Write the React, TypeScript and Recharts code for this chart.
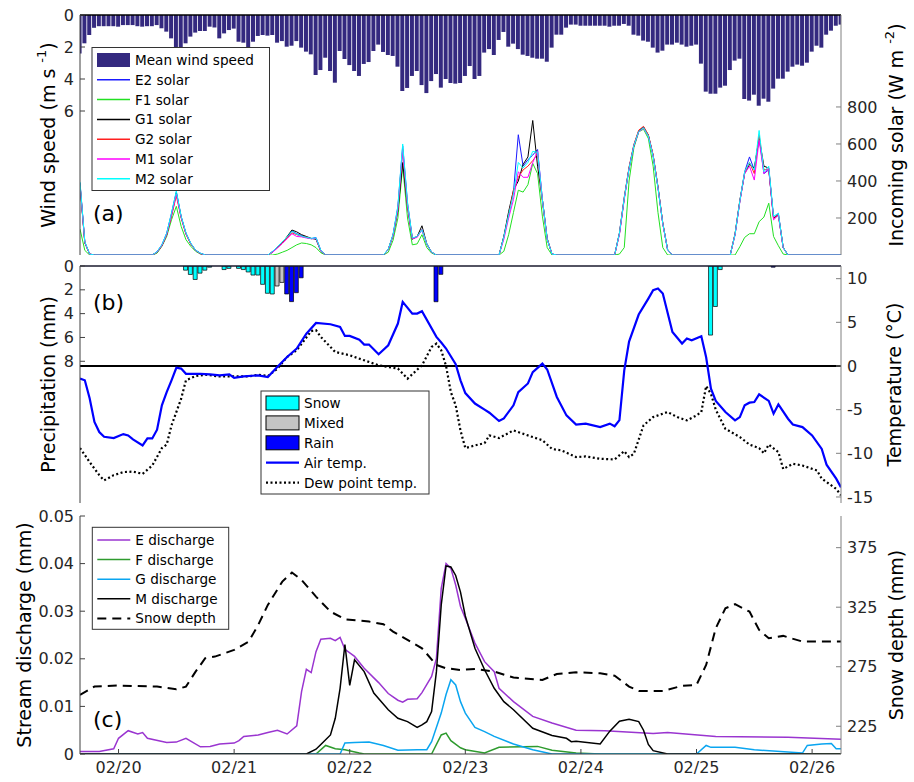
import React from 'react';
import { ComposedChart, Bar, Line, XAxis, YAxis, ReferenceLine, Cell } from 'recharts';

const FONT = '"DejaVu Sans", Verdana, sans-serif';
const AXIS = '#404040';
const AXIS_R = '#808080';
const TXT = '#262626';

// x = hours since 02/19 16:00 (one wind / precipitation bar per hour)
const HOUR_COUNT = 159;
const dateTicks = [8, 32, 56, 80, 104, 128, 152];
const dateLabels = ['02/20', '02/21', '02/22', '02/23', '02/24', '02/25', '02/26'];
const windTicks = [0, 2, 4, 6];
const solarTicks = [200, 400, 600, 800];
const precipTicks = [0, 2, 4, 6, 8];
const tempTicks = [-15, -10, -5, 0, 5, 10];
const dischargeTicks = [0, 0.01, 0.02, 0.03, 0.04, 0.05];
const snowDepthTicks = [225, 275, 325, 375];

const windSpeed = [
  2.4, 1.77, 1.25, 0.8, 0.7, 0.7, 0.7, 0.7, 0.73, 0.63,
  0.63, 0.63, 0.7, 0.73, 0.7, 0.7, 0.63, 0.83, 1.04, 1.46,
  2.08, 2.08, 1.77, 1.35, 1.1, 1.0, 1.0, 0.73, 0.78, 1.46,
  1.15, 0.94, 0.85, 1.67, 1.73, 2.19, 1.67, 1.31, 1.25, 1.29,
  1.25, 1.73, 1.63, 1.98, 1.92, 1.63, 2.04, 2.29, 2.46, 3.75,
  3.44, 2.67, 3.5, 4.23, 2.25, 2.75, 3.13, 3.5, 3.81, 3.06,
  2.94, 2.25, 1.85, 2.31, 2.5, 2.56, 3.23, 4.75, 4.56, 3.81,
  3.5, 4.38, 4.88, 4.13, 3.69, 4.54, 4.0, 4.25, 4.29, 4.25,
  3.81, 3.19, 4.0, 3.81, 2.35, 2.13, 2.5, 1.56, 1.06, 1.98,
  1.79, 2.13, 2.48, 2.56, 2.67, 2.73, 2.73, 2.92, 2.04, 1.23,
  1.23, 0.79, 0.6, 0.6, 0.67, 0.67, 0.67, 0.67, 0.67, 0.67,
  0.73, 0.67, 0.67, 0.56, 0.67, 1.23, 1.29, 1.6, 1.67, 2.04,
  2.35, 2.23, 1.85, 1.85, 1.73, 1.85, 1.98, 1.92, 1.85, 3.04,
  4.79, 4.92, 4.92, 4.54, 4.42, 3.44, 2.85, 2.73, 5.25, 5.35,
  4.98, 5.67, 5.23, 5.42, 4.6, 3.98, 3.98, 3.54, 3.23, 3.1,
  3.17, 2.98, 2.29, 1.92, 2.04, 1.23, 0.98, 0.67, 0.6,
];

type Pt = [number, number];

const solarE2: Pt[] = [
  [0, 390], [1, 70], [2, 5], [3, 0],
  [15, 0], [16, 18], [17, 55], [18, 118], [19, 225], [20, 342], [21, 208], [22, 118], [23, 63], [24, 26], [25, 10], [26, 0],
  [39, 0], [40, 20], [41, 45], [42, 70], [43, 95], [44, 130], [45, 115], [46, 105], [47, 95], [48, 88], [49, 95], [50, 25], [51, 0],
  [63, 0], [64, 30], [65, 110], [66, 260], [67, 590], [68, 280], [69, 90], [70, 100], [71, 135], [72, 60], [73, 15], [74, 0],
  [87, 0], [88, 100], [89, 220], [90, 340], [91, 650], [92, 480], [93, 515], [94, 540], [95, 570], [96, 300], [97, 85], [98, 5], [99, 0],
  [111, 0], [112, 120], [113, 310], [114, 470], [115, 595], [116, 670], [117, 690], [118, 645], [119, 535], [120, 365], [121, 170], [122, 28], [123, 0],
  [135, 0], [136, 110], [137, 290], [138, 450], [139, 530], [140, 460], [141, 640], [142, 440], [143, 460], [144, 200], [145, 225], [146, 40], [147, 0],
  [158, 0],
];
const solarF1: Pt[] = [
  [0, 140], [1, 25], [2, 0],
  [15, 0], [16, 10], [17, 47], [18, 100], [19, 190], [20, 263], [21, 155], [22, 83], [23, 47], [24, 20], [25, 5], [26, 0],
  [40, 0], [41, 5], [42, 15], [43, 25], [44, 40], [45, 55], [46, 65], [47, 62], [48, 55], [49, 40], [50, 12], [51, 0],
  [63, 0], [64, 15], [65, 80], [66, 200], [67, 480], [68, 200], [69, 55], [70, 60], [71, 110], [72, 40], [73, 10], [74, 0],
  [87, 0], [88, 20], [89, 110], [90, 230], [91, 350], [92, 340], [93, 380], [94, 495], [95, 440], [96, 210], [97, 40], [98, 0],
  [111, 0], [112, 5], [113, 40], [114, 400], [115, 580], [116, 665], [117, 680], [118, 630], [119, 480], [120, 230], [121, 40], [122, 0],
  [135, 0], [136, 0], [137, 45], [138, 95], [139, 115], [140, 115], [141, 180], [142, 205], [143, 280], [144, 100], [145, 50], [146, 5], [147, 0],
  [158, 0],
];
const solarG1: Pt[] = [
  [0, 380], [1, 65], [2, 5], [3, 0],
  [15, 0], [16, 15], [17, 50], [18, 110], [19, 215], [20, 335], [21, 205], [22, 115], [23, 60], [24, 25], [25, 8], [26, 0],
  [39, 0], [40, 15], [41, 40], [42, 65], [43, 100], [44, 135], [45, 125], [46, 110], [47, 100], [48, 90], [49, 85], [50, 20], [51, 0],
  [63, 0], [64, 30], [65, 105], [66, 240], [67, 500], [68, 260], [69, 85], [70, 100], [71, 158], [72, 60], [73, 15], [74, 0],
  [87, 0], [88, 100], [89, 235], [90, 350], [91, 400], [92, 490], [93, 530], [94, 727], [95, 480], [96, 300], [97, 90], [98, 5], [99, 0],
  [111, 0], [112, 115], [113, 305], [114, 470], [115, 590], [116, 668], [117, 692], [118, 648], [119, 538], [120, 368], [121, 172], [122, 30], [123, 0],
  [135, 0], [136, 115], [137, 295], [138, 440], [139, 490], [140, 470], [141, 630], [142, 480], [143, 470], [144, 200], [145, 215], [146, 40], [147, 0],
  [158, 0],
];
const solarG2: Pt[] = [
  [0, 385], [1, 68], [2, 5], [3, 0],
  [15, 0], [16, 15], [17, 50], [18, 110], [19, 210], [20, 320], [21, 200], [22, 112], [23, 60], [24, 25], [25, 8], [26, 0],
  [39, 0], [40, 18], [41, 42], [42, 68], [43, 92], [44, 120], [45, 110], [46, 100], [47, 95], [48, 88], [49, 90], [50, 22], [51, 0],
  [63, 0], [64, 30], [65, 108], [66, 250], [67, 570], [68, 270], [69, 90], [70, 98], [71, 140], [72, 58], [73, 15], [74, 0],
  [87, 0], [88, 95], [89, 215], [90, 350], [91, 420], [92, 460], [93, 480], [94, 510], [95, 545], [96, 290], [97, 85], [98, 5], [99, 0],
  [111, 0], [112, 118], [113, 312], [114, 475], [115, 598], [116, 675], [117, 695], [118, 650], [119, 540], [120, 368], [121, 172], [122, 30], [123, 0],
  [135, 0], [136, 112], [137, 292], [138, 445], [139, 500], [140, 440], [141, 650], [142, 460], [143, 465], [144, 195], [145, 220], [146, 40], [147, 0],
  [158, 0],
];
const solarM1: Pt[] = [
  [0, 385], [1, 68], [2, 5], [3, 0],
  [15, 0], [16, 15], [17, 52], [18, 112], [19, 215], [20, 330], [21, 205], [22, 115], [23, 62], [24, 25], [25, 8], [26, 0],
  [39, 0], [40, 15], [41, 38], [42, 62], [43, 88], [44, 115], [45, 100], [46, 98], [47, 92], [48, 88], [49, 90], [50, 22], [51, 0],
  [63, 0], [64, 28], [65, 105], [66, 250], [67, 565], [68, 265], [69, 88], [70, 95], [71, 138], [72, 58], [73, 15], [74, 0],
  [87, 0], [88, 85], [89, 200], [90, 300], [91, 450], [92, 420], [93, 420], [94, 500], [95, 560], [96, 300], [97, 85], [98, 5], [99, 0],
  [111, 0], [112, 110], [113, 300], [114, 465], [115, 590], [116, 665], [117, 685], [118, 642], [119, 535], [120, 362], [121, 168], [122, 28], [123, 0],
  [135, 0], [136, 108], [137, 288], [138, 440], [139, 480], [140, 405], [141, 620], [142, 440], [143, 470], [144, 190], [145, 215], [146, 38], [147, 0],
  [158, 0],
];
const solarM2: Pt[] = [
  [0, 395], [1, 72], [2, 5], [3, 0],
  [15, 0], [16, 18], [17, 55], [18, 118], [19, 228], [20, 345], [21, 210], [22, 120], [23, 64], [24, 26], [25, 10], [26, 0],
  [39, 0], [40, 20], [41, 45], [42, 72], [43, 98], [44, 128], [45, 112], [46, 102], [47, 95], [48, 90], [49, 93], [50, 25], [51, 0],
  [63, 0], [64, 32], [65, 112], [66, 265], [67, 600], [68, 285], [69, 92], [70, 100], [71, 138], [72, 60], [73, 15], [74, 0],
  [87, 0], [88, 98], [89, 218], [90, 330], [91, 500], [92, 470], [93, 500], [94, 560], [95, 555], [96, 300], [97, 85], [98, 5], [99, 0],
  [111, 0], [112, 118], [113, 308], [114, 468], [115, 592], [116, 668], [117, 688], [118, 643], [119, 533], [120, 363], [121, 170], [122, 28], [123, 0],
  [135, 0], [136, 112], [137, 292], [138, 450], [139, 500], [140, 460], [141, 673], [142, 450], [143, 480], [144, 210], [145, 225], [146, 40], [147, 0],
  [158, 0],
];

const snowPrecip: Pt[] = [
  [22, 0.35], [23, 0.71], [24, 1.13], [25, 0.6], [26, 0.35], [27, 0.1], [30, 0.3], [31, 0.2], [33, 0.2], [34, 0.3],
  [35, 0.5], [36, 0.76], [37, 0.76], [38, 1.54], [39, 2.29], [40, 2.35], [131, 5.8], [132, 3.4], [133, 0.3],
];
const mixedPrecip: Pt[] = [[41, 1.68], [42, 1.38]];
const rainPrecip: Pt[] = [[43, 2.35], [44, 2.99], [45, 2.24], [46, 0.99], [74, 3.0], [75, 0.7], [144, 0.1]];

const airTemp: Pt[] = [
  [0, -1.45], [1, -1.64], [2, -3.7], [3, -6.4], [4, -7.56], [5, -8.1], [7, -8.25], [9, -7.8], [10, -7.95], [11, -8.4],
  [13, -9.1], [14, -8.3], [15, -8.3], [16, -7.3], [17, -4.5], [18, -3.0], [19, -1.64], [20, -0.2], [21, -0.3], [22, -0.9],
  [25, -0.9], [27, -0.95], [29, -1.07], [31, -0.95], [32, -1.37], [34, -1.2], [37, -1.07], [39, -1.26], [41, -0.1], [43, 1.03],
  [45, 2.0], [47, 3.7], [49, 4.93], [52, 4.78], [54, 4.47], [55, 3.44], [56, 3.44], [58, 3.0], [59, 2.45], [60, 2.45],
  [62, 1.34], [64, 2.37], [66, 4.86], [67, 7.34], [69, 6.0], [70, 6.0], [71, 6.27], [74, 3.33], [75, 2.68], [76, 2.0],
  [78, 0.2], [79, -1.64], [80, -3.1], [82, -4.3], [84, -5.0], [85, -5.35], [87, -6.3], [88, -6.0], [90, -4.5], [91, -3.0],
  [93, -2.0], [94, -0.7], [96, 0.27], [97, -0.4], [99, -3.55], [101, -5.66], [103, -6.7], [105, -6.6], [108, -7.0], [110, -6.6],
  [111, -6.9], [112, -6.2], [113, -0.5], [114, 2.8], [116, 5.89], [118, 7.72], [119, 8.68], [120, 8.87], [121, 8.3], [123, 3.9],
  [125, 2.57], [126, 3.14], [127, 2.95], [129, 3.4], [130, 1.0], [131, -2.6], [132, -4.0], [134, -5.27], [136, -6.23], [137, -5.85],
  [138, -4.5], [139, -4.2], [140, -4.13], [141, -3.25], [143, -4.0], [144, -5.46], [145, -4.4], [147, -6.04], [148, -6.7], [150, -7.0],
  [152, -7.95], [154, -9.5], [155, -11.3], [157, -12.9], [158, -13.9],
];
const dewPointTemp: Pt[] = [
  [0, -9.4], [2, -11.0], [4, -12.5], [5, -13.1], [7, -12.5], [9, -12.15], [11, -12.1], [13, -12.35], [15, -11.4], [17, -9.4],
  [18, -9.0], [19, -6.8], [21, -3.75], [22, -1.64], [24, -1.15], [26, -1.0], [29, -1.2], [32, -1.2], [35, -1.2], [37, -1.0],
  [39, -1.15], [41, -0.3], [43, 1.03], [45, 1.8], [48, 4.0], [49, 4.1], [50, 3.33], [53, 1.6], [56, 1.23], [59, 0.65],
  [62, 0.08], [66, -0.3], [68, -1.45], [71, 0.08], [73, 2.18], [74, 2.56], [75, 1.8], [76, 0.0], [77, -3.0], [78, -4.5],
  [79, -7.4], [80, -9.4], [82, -9.1], [84, -8.83], [85, -7.95], [87, -8.25], [90, -7.38], [94, -8.14], [96, -8.5], [98, -9.5],
  [100, -9.67], [103, -10.43], [105, -10.36], [108, -10.63], [111, -10.7], [113, -9.75], [114, -10.43], [115, -10.05], [117, -6.8], [119, -5.85],
  [122, -5.27], [124, -5.85], [126, -6.23], [128, -5.66], [129, -5.27], [130, -2.3], [131, -3.2], [132, -5.0], [134, -7.2], [137, -8.14],
  [139, -9.0], [141, -9.4], [142, -10.0], [143, -9.0], [145, -9.86], [146, -11.8], [148, -11.2], [150, -11.4], [153, -11.96], [154, -12.9],
  [157, -14.07], [158, -14.8],
];

const dischargeE: Pt[] = [
  [0, 0.00055], [4, 0.00055], [7, 0.0011], [8, 0.0033], [10, 0.0049], [12, 0.0042], [13, 0.0045], [14, 0.0033], [18, 0.0024], [20, 0.0025],
  [22, 0.0033], [25, 0.0015], [27, 0.0016], [29, 0.0021], [32, 0.0023], [33, 0.0028], [34, 0.0037], [37, 0.004], [39, 0.0045], [41, 0.005],
  [43, 0.0042], [45, 0.0059], [46, 0.0131], [47, 0.0178], [48, 0.0171], [49, 0.0215], [50, 0.0241], [52, 0.0243], [53, 0.0238], [54, 0.0245],
  [55, 0.022], [57, 0.0205], [59, 0.018], [62, 0.015], [64, 0.0127], [66, 0.0113], [67, 0.0109], [68, 0.0115], [70, 0.0116], [71, 0.0129],
  [73, 0.0163], [74, 0.0201], [75, 0.0348], [76, 0.04], [77, 0.039], [78, 0.0355], [79, 0.031], [80, 0.0285], [82, 0.0233], [84, 0.0194],
  [86, 0.0173], [87, 0.0138], [90, 0.011], [94, 0.0079], [98, 0.0065], [103, 0.005], [109, 0.0049], [119, 0.0043], [122, 0.0045], [132, 0.0037],
  [147, 0.0035], [158, 0.0031],
];
const dischargeF: Pt[] = [
  [0, 0], [49, 0], [51, 0.0018], [53, 0.0011], [55, 0.0009], [58, 0.0002], [59, 0], [73, 0], [75, 0.004], [76, 0.0044],
  [77, 0.0028], [79, 0.0013], [80, 0.0009], [84, 0.0002], [87, 0.0014], [95, 0.0016], [98, 0.0008], [103, 0.0002], [108, 0], [158, 0],
];
const dischargeG: Pt[] = [
  [0, 0], [54, 0], [55, 0.0023], [57, 0.0024], [60, 0.0025], [63, 0.0018], [66, 0.0008], [70, 0.0009], [72, 0.0009], [73, 0.0026],
  [75, 0.0086], [76, 0.0125], [77, 0.0156], [78, 0.0145], [79, 0.011], [80, 0.0086], [82, 0.0056], [84, 0.0047], [86, 0.0037], [90, 0.0021],
  [94, 0.0009], [98, 0], [128, 0], [130, 0.0018], [131, 0.0014], [136, 0.0014], [140, 0.0009], [150, 0.0002], [151, 0.0018], [154, 0.0021],
  [156, 0.0022], [157, 0.0011], [158, 0.0011],
];
const dischargeM: Pt[] = [
  [0, 0], [47, 0], [49, 0.001], [50, 0.002], [52, 0.004], [53, 0.0075], [54, 0.0138], [55, 0.023], [56, 0.0144], [57, 0.0198],
  [59, 0.0173], [61, 0.0128], [64, 0.0093], [66, 0.0075], [68, 0.0068], [70, 0.0056], [71, 0.0061], [72, 0.0068], [73, 0.0089], [74, 0.0173],
  [75, 0.0313], [76, 0.0395], [77, 0.0393], [78, 0.0375], [79, 0.034], [80, 0.029], [82, 0.0222], [84, 0.0177], [86, 0.0138], [88, 0.011],
  [90, 0.0093], [94, 0.0054], [98, 0.0039], [101, 0.0033], [102, 0.0026], [103, 0.0027], [108, 0.0021], [110, 0.0048], [112, 0.0069], [114, 0.0073],
  [116, 0.0068], [117, 0.005], [118, 0.002], [119, 0.0007], [122, 0], [158, 0],
];
const snowDepth: Pt[] = [
  [0, 251.3], [3, 258.3], [8, 259.2], [16, 258.3], [20, 256.1], [22, 258.3], [24, 270.9], [26, 282.1], [28, 283.5], [32, 289.1],
  [35, 296.1], [37, 310.1], [39, 326.9], [42, 346.5], [44, 354.1], [46, 347.9], [49, 333.9], [52, 321.3], [55, 314.9], [60, 312.9],
  [63, 310.7], [65, 304.5], [68, 297.5], [71, 290.5], [74, 276.5], [76, 273.7], [79, 272.3], [82, 273.1], [86, 270.9], [90, 265.9],
  [96, 263.9], [99, 268.9], [103, 270.3], [108, 269.5], [111, 267.5], [114, 258.3], [116, 254.7], [121, 254.7], [125, 258.9], [128, 259.8],
  [130, 276.5], [132, 307.3], [134, 324.1], [136, 327.5], [139, 321.3], [141, 305.9], [143, 298.9], [146, 300.9], [150, 296.1], [158, 296.1],
];

// ---------- series configuration ----------
const WIND_COLOR = '#34297f';
const solarSeries = [
  { key: 'E2', label: 'E2 solar', color: '#1a1aff', pts: solarE2 },
  { key: 'F1', label: 'F1 solar', color: '#22e022', pts: solarF1 },
  { key: 'G1', label: 'G1 solar', color: '#000000', pts: solarG1 },
  { key: 'G2', label: 'G2 solar', color: '#ff2020', pts: solarG2 },
  { key: 'M1', label: 'M1 solar', color: '#ff00ff', pts: solarM1 },
  { key: 'M2', label: 'M2 solar', color: '#00ffff', pts: solarM2 },
];
const precipKinds = [
  { key: 'snow', label: 'Snow', color: '#00ffff', pts: snowPrecip },
  { key: 'mixed', label: 'Mixed', color: '#c4c4c4', pts: mixedPrecip },
  { key: 'rain', label: 'Rain', color: '#0000ff', pts: rainPrecip },
];
const dischargeSeries = [
  { key: 'E', label: 'E discharge', color: '#9a35d0', pts: dischargeE },
  { key: 'F', label: 'F discharge', color: '#2e9b2e', pts: dischargeF },
  { key: 'G', label: 'G discharge', color: '#0aa5f0', pts: dischargeG },
  { key: 'M', label: 'M discharge', color: '#000000', pts: dischargeM },
];

const toMap = (pts: Pt[]) => new Map(pts.map(([h, v]) => [h, v]));
const hours = Array.from({ length: HOUR_COUNT }, (_, i) => i);

const solarMaps = solarSeries.map((s) => toMap(s.pts));
const panelAData = hours.map((h) => {
  const row: any = { h, wind: windSpeed[h] };
  solarSeries.forEach((s, i) => { row[s.key] = solarMaps[i].get(h); });
  return row;
});

const precipMaps = precipKinds.map((k) => toMap(k.pts));
const airMap = toMap(airTemp);
const dewMap = toMap(dewPointTemp);
const panelBData = hours.map((h) => {
  const row: any = { h, air: airMap.get(h), dew: dewMap.get(h) };
  precipKinds.forEach((k, i) => {
    const v = precipMaps[i].get(h);
    if (v !== undefined) { row.p = v; row.kind = k.key; }
  });
  return row;
});

const dischargeMaps = dischargeSeries.map((s) => toMap(s.pts));
const snowMap = toMap(snowDepth);
const panelCData = hours.map((h) => {
  const row: any = { h, snow: snowMap.get(h) };
  dischargeSeries.forEach((s, i) => { row[s.key] = dischargeMaps[i].get(h); });
  return row;
});

// ---------- helpers ----------
const tickStyle = { fill: TXT, fontSize: 16, fontFamily: FONT };
const dateFmt = (v: number) => dateLabels[dateTicks.indexOf(v)] ?? '';
const blank = () => '';

type Part = { t: string; sup?: boolean; after?: boolean };
const AxisTitle = (props: any) => {
  const vb = props.viewBox || { x: 0, y: 0, width: 0, height: 0 };
  const cx = vb.x + props.offsetX;
  const cy = vb.y + vb.height / 2;
  const parts: Part[] = props.parts;
  return (
    <text x={cx} y={cy} transform={`rotate(-90, ${cx}, ${cy})`} textAnchor="middle" dominantBaseline="central"
      fontFamily={FONT} fontSize={19} fill="#000">
      {parts.map((p, i) =>
        p.sup ? <tspan key={i} dy={-7} fontSize={13}>{p.t}</tspan>
          : <tspan key={i} dy={p.after ? 7 : 0}>{p.t}</tspan>)}
    </text>
  );
};

const xCommon = {
  dataKey: 'h', type: 'number' as const, domain: [0, 158], ticks: dateTicks, interval: 0 as const,
  allowDataOverflow: true, stroke: AXIS, tickSize: -5,
};

type LegendItem = { label: string; kind: 'rect' | 'line'; color: string; dash?: string; width?: number; edge?: string };
const LegendBox = ({ x, y, w, h, rowStart, rowStep, items }: any) => (
  <g>
    <rect x={x} y={y} width={w} height={h} fill="#fff" stroke="#333" strokeWidth={1} />
    {(items as LegendItem[]).map((it, i) => {
      const ry = rowStart + i * rowStep;
      return (
        <g key={it.label}>
          {it.kind === 'rect' ? (
            <rect x={x + 5} y={ry - 7} width={33} height={14} fill={it.color} stroke={it.edge || 'none'} strokeWidth={1} />
          ) : (
            <line x1={x + 5} x2={x + 38} y1={ry} y2={ry} stroke={it.color} strokeWidth={it.width || 1.5} strokeDasharray={it.dash} />
          )}
          <text x={x + 43} y={ry} dominantBaseline="central" fontFamily={FONT} fontSize={13.6} fill="#000">{it.label}</text>
        </g>
      );
    })}
  </g>
);

const legendA: LegendItem[] = [
  { label: 'Mean wind speed', kind: 'rect', color: WIND_COLOR },
  ...solarSeries.map((s) => ({ label: s.label, kind: 'line' as const, color: s.color, width: 1.5 })),
];
const legendB: LegendItem[] = [
  ...precipKinds.map((k) => ({ label: k.label, kind: 'rect' as const, color: k.color, edge: '#000' })),
  { label: 'Air temp.', kind: 'line', color: '#0000ff', width: 2.2 },
  { label: 'Dew point temp.', kind: 'line', color: '#000', width: 2.2, dash: '2 2.5' },
];
const legendC: LegendItem[] = [
  ...dischargeSeries.map((s) => ({ label: s.label, kind: 'line' as const, color: s.color, width: 1.5 })),
  { label: 'Snow depth', kind: 'line', color: '#000', width: 2, dash: '9 6' },
];

export default function App() {
  return (
    <div style={{ position: 'absolute', left: 0, top: 0, width: 914, height: 782, background: '#fff', overflow: 'hidden' }}>
      {/* Panel (a) */}
      <div style={{ position: 'absolute', left: 0, top: 0 }}>
        <ComposedChart width={914} height={262} data={panelAData} margin={{ top: 15, right: 0, bottom: 7, left: 0 }}>
          <XAxis {...xCommon} xAxisId={0} height={0} tickLine={false} tickFormatter={blank} />
          <YAxis yAxisId="wind" orientation="left" width={80} reversed domain={[0, 15]} ticks={windTicks} interval={0}
            allowDataOverflow stroke={AXIS} tickSize={-5} tickMargin={11} tick={tickStyle}
            label={<AxisTitle offsetX={48} parts={[{ t: 'Wind speed (m s ' }, { t: '-1', sup: true }, { t: ')', after: true }]} />} />
          <YAxis yAxisId="solar" orientation="right" width={73} domain={[0, 1297]} ticks={solarTicks} interval={0}
            allowDataOverflow stroke={AXIS_R} tickSize={-5} tickMargin={11} tick={tickStyle}
            label={<AxisTitle offsetX={55} parts={[{ t: 'Incoming solar (W m ' }, { t: '-2', sup: true }, { t: ')', after: true }]} />} />
          <Bar yAxisId="wind" dataKey="wind" fill={WIND_COLOR} barSize={4} isAnimationActive={false} />
          <ReferenceLine yAxisId="wind" y={0} stroke="#000" strokeWidth={1.5} />
          {solarSeries.map((s) => (
            <Line key={s.key} yAxisId="solar" dataKey={s.key} stroke={s.color} strokeWidth={1} dot={false}
              connectNulls isAnimationActive={false} />
          ))}
        </ComposedChart>
      </div>

      {/* Panel (b) */}
      <div style={{ position: 'absolute', left: 0, top: 255 }}>
        <ComposedChart width={914} height={260} data={panelBData} margin={{ top: 11, right: 0, bottom: 12, left: 0 }}>
          <XAxis {...xCommon} xAxisId={0} height={0} tickFormatter={blank} />
          <XAxis {...xCommon} xAxisId="top" orientation="top" height={0} tickFormatter={blank} />
          <YAxis yAxisId="precip" orientation="left" width={80} reversed domain={[0, 19.9]} ticks={precipTicks} interval={0}
            allowDataOverflow stroke={AXIS} tickSize={-5} tickMargin={11} tick={tickStyle}
            label={<AxisTitle offsetX={48} parts={[{ t: 'Precipitation (mm)' }]} />} />
          <YAxis yAxisId="temp" orientation="right" width={73} domain={[-15.69, 11.45]} ticks={tempTicks} interval={0}
            allowDataOverflow stroke={AXIS_R} tickSize={-5} tickMargin={11} tick={tickStyle}
            label={<AxisTitle offsetX={53} parts={[{ t: 'Temperature (°C)' }]} />} />
          <Bar yAxisId="precip" dataKey="p" barSize={4} isAnimationActive={false}>
            {panelBData.map((r, i) => {
              const k = precipKinds.find((q) => q.key === r.kind);
              return <Cell key={i} fill={k ? k.color : 'none'} stroke="#000" strokeWidth={0.7} />;
            })}
          </Bar>
          <ReferenceLine yAxisId="precip" y={0} stroke="#1a1a2e" strokeWidth={1.5} />
          <ReferenceLine yAxisId="temp" y={0} stroke="#000" strokeWidth={2} />
          <Line yAxisId="temp" dataKey="dew" stroke="#000" strokeWidth={2.2} strokeDasharray="2 2.5" dot={false}
            connectNulls isAnimationActive={false} />
          <Line yAxisId="temp" dataKey="air" stroke="#0000ff" strokeWidth={2.2} dot={false}
            connectNulls isAnimationActive={false} />
        </ComposedChart>
      </div>

      {/* Panel (c) */}
      <div style={{ position: 'absolute', left: 0, top: 505 }}>
        <ComposedChart width={914} height={277} data={panelCData} margin={{ top: 11, right: 0, bottom: 0, left: 0 }}>
          <XAxis {...xCommon} xAxisId={0} height={28} tickMargin={13} tick={tickStyle} tickFormatter={dateFmt} />
          <XAxis {...xCommon} xAxisId="top" orientation="top" height={0} tickFormatter={blank} />
          <YAxis yAxisId="q" orientation="left" width={80} domain={[0, 0.05]} ticks={dischargeTicks} interval={0}
            allowDataOverflow stroke={AXIS} tickSize={-5} tickMargin={11} tick={tickStyle}
            tickFormatter={(v: number) => (v === 0 ? '0' : v.toFixed(2))}
            label={<AxisTitle offsetX={24} parts={[{ t: 'Stream discharge (mm)' }]} />} />
          <YAxis yAxisId="snow" orientation="right" width={73} domain={[201.7, 401.6]} ticks={snowDepthTicks} interval={0}
            allowDataOverflow stroke={AXIS_R} tickSize={-5} tickMargin={11} tick={tickStyle}
            label={<AxisTitle offsetX={55} parts={[{ t: 'Snow depth (mm)' }]} />} />
          <Line yAxisId="snow" dataKey="snow" stroke="#000" strokeWidth={2} strokeDasharray="9 6" dot={false}
            connectNulls isAnimationActive={false} />
          {dischargeSeries.map((s) => (
            <Line key={s.key} yAxisId="q" dataKey={s.key} stroke={s.color} strokeWidth={1.5} dot={false}
              connectNulls isAnimationActive={false} />
          ))}
        </ComposedChart>
      </div>

      {/* Legends and panel labels */}
      <svg width={914} height={782} style={{ position: 'absolute', left: 0, top: 0, pointerEvents: 'none' }}>
        <LegendBox x={92} y={47.5} w={177.5} h={143} rowStart={60} rowStep={19.8} items={legendA} />
        <LegendBox x={261} y={391} w={168} h={103} rowStart={403} rowStep={19.9} items={legendB} />
        <LegendBox x={92.3} y={527.3} w={136.4} h={102} rowStart={540} rowStep={19.6} items={legendC} />
        <text x={93} y={221} fontFamily={FONT} fontSize={22} fill="#000">(a)</text>
        <text x={93} y={310} fontFamily={FONT} fontSize={22} fill="#000">(b)</text>
        <text x={93} y={727} fontFamily={FONT} fontSize={22} fill="#000">(c)</text>
      </svg>
    </div>
  );
}
